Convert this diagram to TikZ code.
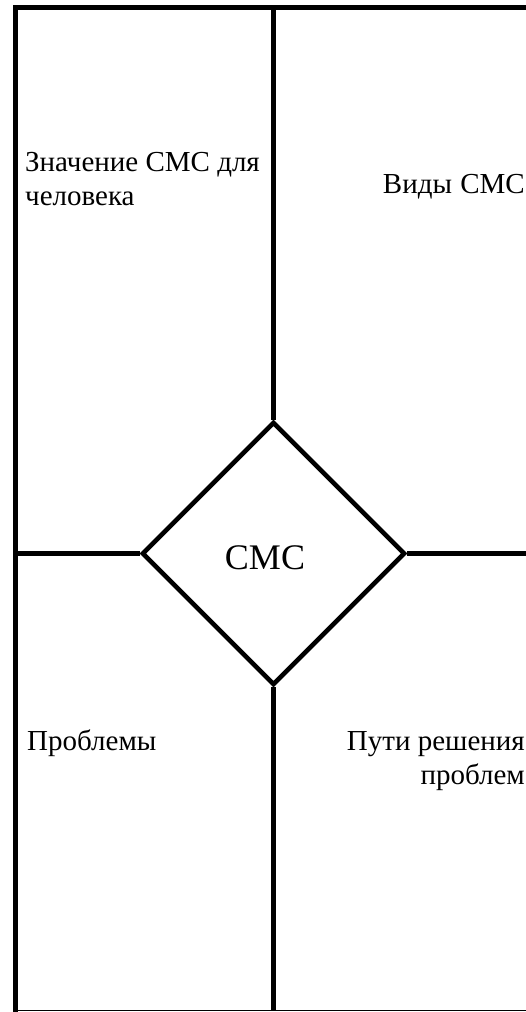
\documentclass[tikz,border=0pt]{standalone}
\usepackage{fontspec}
\setmainfont{Liberation Serif}
\usetikzlibrary{shapes.geometric}
\begin{document}
\begin{tikzpicture}[x=1pt,y=-1pt,
  border/.style={draw=black,line cap=butt},
  label/.style={inner sep=0pt,font=\fontsize{29}{34}\selectfont},
  center/.style={shape=diamond,draw=black,line width=4.6pt,inner sep=0pt,
    minimum width=263pt,minimum height=263pt,fill=white}]
\useasboundingbox (0,0) rectangle (526,1012);
\coordinate (tl) at (13,7.5);
\coordinate (tr) at (526,7.5);
\coordinate (lt) at (15.5,5);
\coordinate (lb) at (15.5,1011.5);
\coordinate (bl) at (13,1010.5);
\coordinate (br) at (526,1010.5);
\coordinate (mt) at (273.5,5);
\coordinate (mb) at (273.5,1011);
\coordinate (hl) at (15,553.5);
\coordinate (hr) at (526,553.5);
\node[center] (c) at (273.5,553.5) {};
\node[inner sep=0pt,font=\fontsize{36}{40}\selectfont] (ct) at (265,557.5) {СМС};
\draw[border,line width=5.2pt] (tl) -- (tr);
\draw[border,line width=5.8pt] (lt) -- (lb);
\draw[border,line width=1.5pt] (bl) -- (br);
\draw[border,line width=5.8pt] (mt) -- (c.north);
\draw[border,line width=5.8pt] (c.south) -- (mb);
\draw[border,line width=4.4pt] (hl) -- (c.west);
\draw[border,line width=4.4pt] (c.east) -- (hr);
\node[label,align=left,anchor=north west] (t1) at (25,152.5) {Значение СМС для\\человека};
\node[label,anchor=base east] (t2) at (525,193) {Виды\hspace{1pt} СМС};
\node[label,anchor=base west] (t3) at (27,750) {Проблемы};
\node[label,align=right,anchor=north east] (t4) at (525,731.5) {Пути решения\\проблем};
\end{tikzpicture}
\end{document}
